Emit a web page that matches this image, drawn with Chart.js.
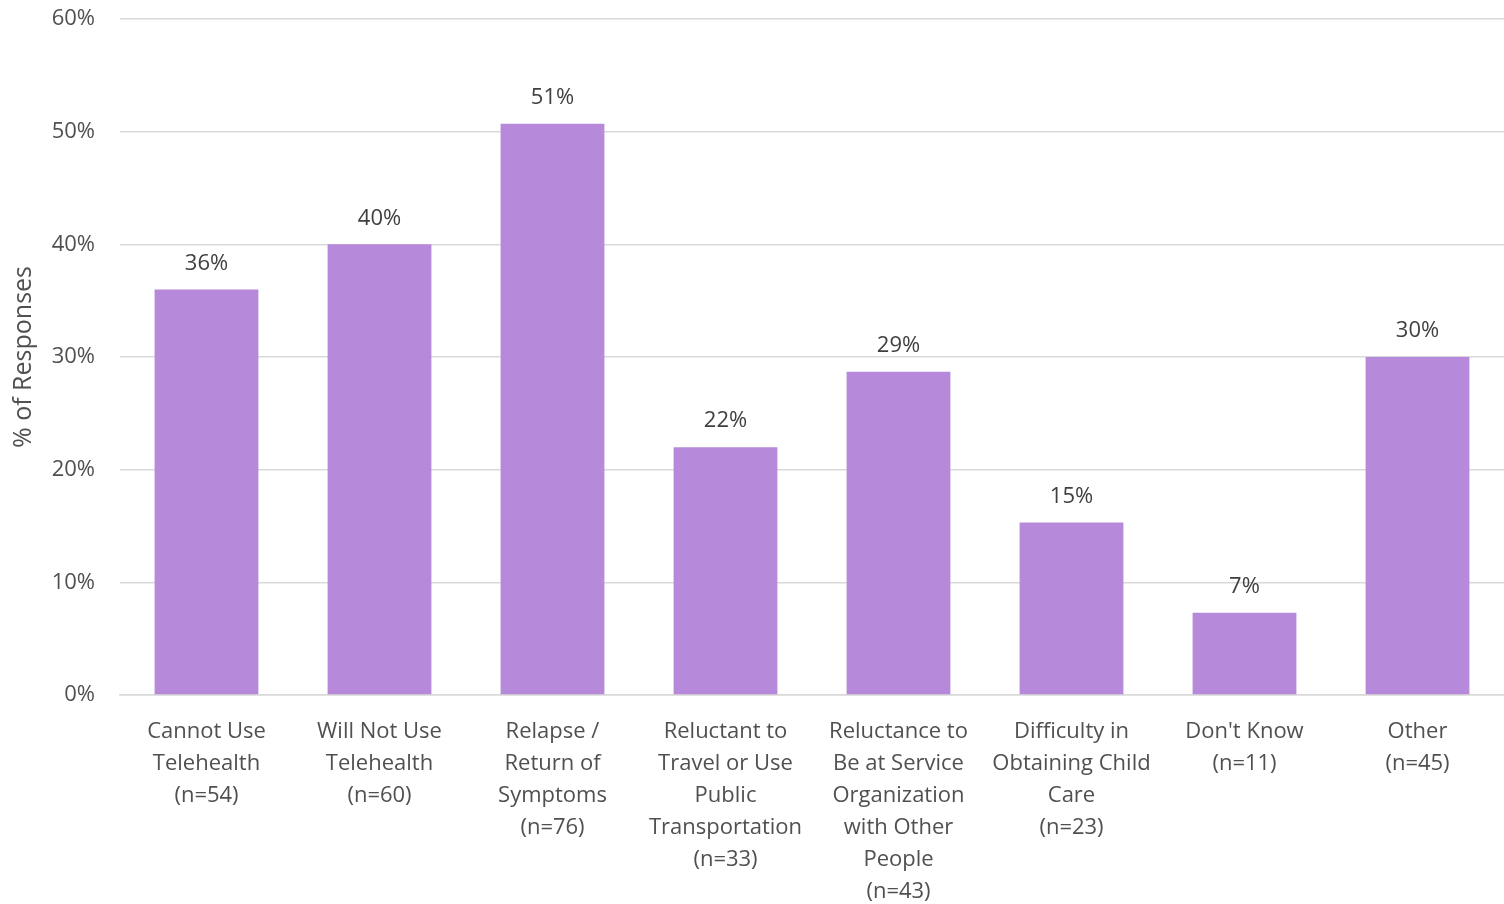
<!DOCTYPE html>
<html>
<head>
<meta charset="utf-8">
<script src="https://cdn.jsdelivr.net/npm/chart.js@4"></script>
<style>
  html, body { margin: 0; padding: 0; background: #ffffff; }
  #wrap { width: 1504px; height: 904px; position: relative; }
</style>
</head>
<body>
<div id="wrap"><canvas id="c" width="1504" height="904"></canvas></div>
<script>
const categories = [
  ["Cannot Use", "Telehealth", "(n=54)"],
  ["Will Not Use", "Telehealth", "(n=60)"],
  ["Relapse /", "Return of", "Symptoms", "(n=76)"],
  ["Reluctant to", "Travel or Use", "Public", "Transportation", "(n=33)"],
  ["Reluctance to", "Be at Service", "Organization", "with Other", "People", "(n=43)"],
  ["Difficulty in", "Obtaining Child", "Care", "(n=23)"],
  ["Don't Know", "(n=11)"],
  ["Other", "(n=45)"]
];
const percentValues = [36, 40, 50.7, 22, 28.7, 15.3, 7.3, 30];
const valueLabels = ["36%", "40%", "51%", "22%", "29%", "15%", "7%", "30%"];
const yTicks = [0, 10, 20, 30, 40, 50, 60];
const yAxisTitle = "% of Responses";

const FONT = "'Open Sans', 'Noto Sans', sans-serif";

const valueLabelPlugin = {
  id: 'valueLabels',
  afterDatasetsDraw(chart) {
    const ctx = chart.ctx;
    const meta = chart.getDatasetMeta(0);
    ctx.save();
    ctx.font = "22px " + FONT;
    ctx.fillStyle = "#404040";
    ctx.textAlign = "center";
    ctx.textBaseline = "middle";
    meta.data.forEach((bar, i) => {
      ctx.fillText(valueLabels[i], bar.x, bar.y - 26);
    });
    ctx.restore();
  }
};

new Chart(document.getElementById('c'), {
  type: 'bar',
  data: {
    labels: categories,
    datasets: [{
      data: percentValues,
      backgroundColor: '#B689DA',
      borderWidth: 0,
      barPercentage: 0.6,
      categoryPercentage: 1.0
    }]
  },
  options: {
    responsive: false,
    animation: false,
    devicePixelRatio: 1,
    layout: { padding: { top: 19, right: 0, left: 0, bottom: 0 } },
    plugins: {
      legend: { display: false },
      tooltip: { enabled: false }
    },
    scales: {
      x: {
        grid: { display: false, drawTicks: false },
        border: { display: true, color: '#D9D9D9', width: 1.5 },
        ticks: {
          color: '#505050',
          font: { family: FONT, size: 22, lineHeight: 1.45 },
          padding: 21,
          maxRotation: 0,
          autoSkip: false
        },
        afterFit(scale) { scale.height = 209; scale.paddingTop = 0; scale.paddingLeft = 0; scale.paddingRight = 0; }
      },
      y: {
        min: 0,
        max: 60,
        afterBuildTicks(scale) { scale.ticks = yTicks.map(v => ({ value: v })); },
        grid: { color: '#D9D9D9', lineWidth: 1.5, drawTicks: false },
        border: { display: false },
        ticks: {
          color: '#505050',
          font: { family: FONT, size: 22 },
          padding: 25,
          callback: (v) => v + '%'
        },
        title: {
          display: true,
          text: yAxisTitle,
          color: '#505050',
          font: { family: FONT, size: 25 },
          padding: { top: 9, bottom: 4 }
        },
        afterFit(scale) { scale.width = 120; scale.paddingTop = 0; scale.paddingBottom = 0; }
      }
    }
  },
  plugins: [valueLabelPlugin]
});
</script>
</body>
</html>
